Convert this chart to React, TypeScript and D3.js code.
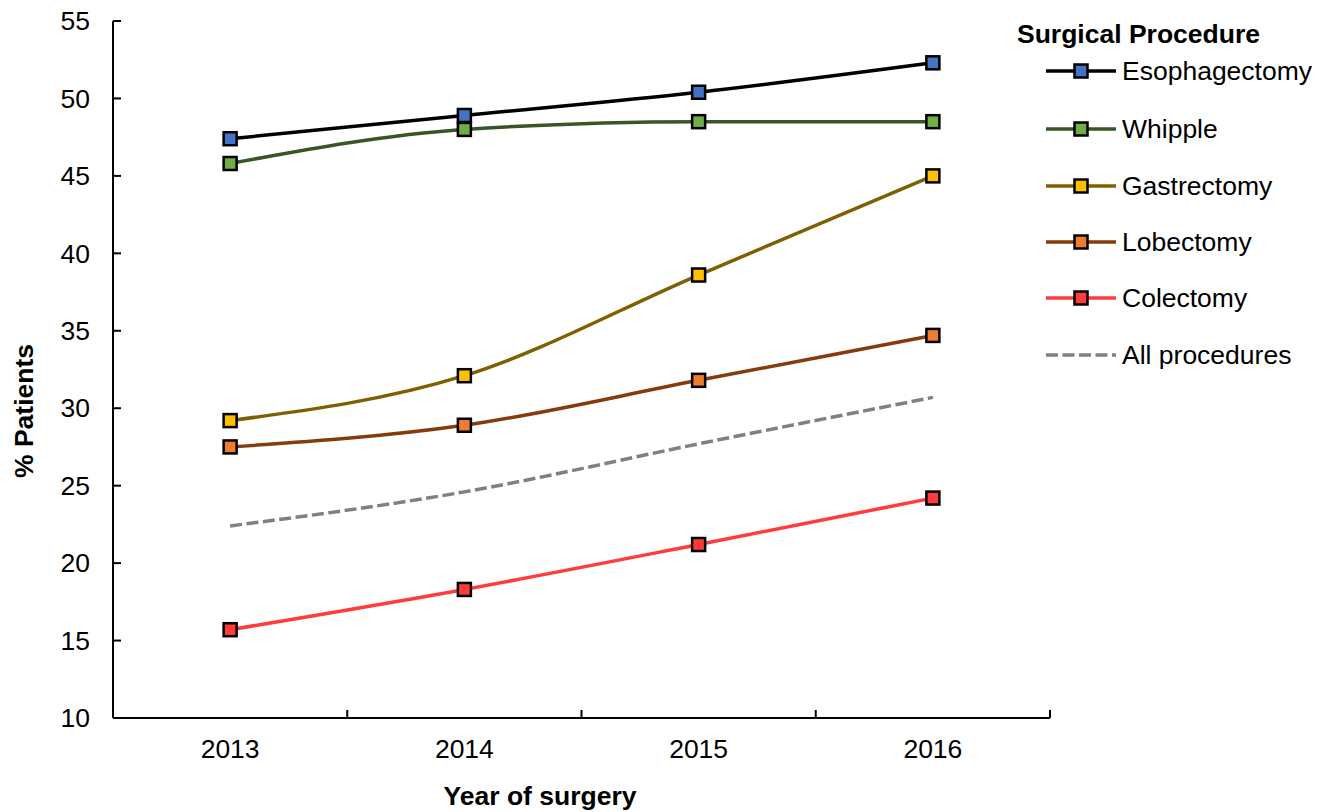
import React from "react";
import * as d3 from "d3";

const years = ["2013", "2014", "2015", "2016"];
const yTicks = [10, 15, 20, 25, 30, 35, 40, 45, 50, 55];

const esophagectomy = [47.4, 48.9, 50.4, 52.3];
const whipple = [45.8, 48.0, 48.5, 48.5];
const gastrectomy = [29.2, 32.1, 38.6, 45.0];
const lobectomy = [27.5, 28.9, 31.8, 34.7];
const colectomy = [15.7, 18.3, 21.2, 24.2];
const allProcedures = [22.4, 24.6, 27.7, 30.7];

const seriesList = [
  { name: "Esophagectomy", values: esophagectomy, line: "#000000", fill: "#4472C4", dashed: false },
  { name: "Whipple", values: whipple, line: "#375623", fill: "#70AD47", dashed: false },
  { name: "Gastrectomy", values: gastrectomy, line: "#7F6000", fill: "#FFC000", dashed: false },
  { name: "Lobectomy", values: lobectomy, line: "#843C0C", fill: "#ED7D31", dashed: false },
  { name: "Colectomy", values: colectomy, line: "#FF3B3B", fill: "#FF3B3B", dashed: false },
  { name: "All procedures", values: allProcedures, line: "#808080", fill: "none", dashed: true },
];

const W = 1318;
const H = 812;
const left = 113;
const right = 1050;
const top = 21;
const bottom = 718;
const font = "'Liberation Sans', Arial, sans-serif";
const fs = 26.5;
const lw = 3.5;
const dash = "12 4.5";

export default function App() {
  const x = d3.scaleBand<string>().domain(years).range([left, right]).padding(0);
  const y = d3.scaleLinear().domain([10, 55]).range([bottom, top]);
  const cx = (yr: string) => (x(yr) as number) + x.bandwidth() / 2;

  const line = d3
    .line<number>()
    .x((_, i) => cx(years[i]))
    .y((v) => y(v))
    .curve(d3.curveMonotoneX);

  const legendX = 1046;
  const legendYs = [71, 129, 186, 242, 298, 355];
  const ms = 13;

  return (
    <svg
      width={W}
      height={H}
      style={{ position: "absolute", left: 0, top: 0, background: "#fff" }}
      fontFamily={font}
    >
      {/* axes */}
      <line x1={left} y1={top} x2={left} y2={bottom} stroke="#000" strokeWidth={2} />
      <line x1={left} y1={bottom} x2={right} y2={bottom} stroke="#000" strokeWidth={2} />
      {yTicks.map((t) => (
        <g key={t}>
          <line x1={left} x2={left + 8} y1={y(t)} y2={y(t)} stroke="#000" strokeWidth={2} />
          <text x={90} y={y(t)} dy="0.35em" textAnchor="end" fontSize={fs}>
            {t}
          </text>
        </g>
      ))}
      {years.map((yr, i) => (
        <g key={yr}>
          {i > 0 && (
            <line
              x1={x(yr) as number}
              x2={x(yr) as number}
              y1={bottom}
              y2={bottom - 8}
              stroke="#000"
              strokeWidth={2}
            />
          )}
          <text x={cx(yr)} y={758} textAnchor="middle" fontSize={fs}>
            {yr}
          </text>
        </g>
      ))}
      <line x1={right} x2={right} y1={bottom} y2={bottom - 8} stroke="#000" strokeWidth={2} />

      <text x={540} y={805} textAnchor="middle" fontSize={fs} fontWeight="bold">
        Year of surgery
      </text>
      <text
        transform={`translate(33,411) rotate(-90)`}
        textAnchor="middle"
        fontSize={fs}
        fontWeight="bold"
      >
        % Patients
      </text>

      {/* series */}
      {seriesList.map((s) => (
        <g key={s.name}>
          <path
            d={line(s.values) as string}
            fill="none"
            stroke={s.line}
            strokeWidth={lw}
            strokeDasharray={s.dashed ? dash : undefined}
          />
          {s.fill !== "none" &&
            s.values.map((v, i) => (
              <rect
                key={i}
                x={cx(years[i]) - ms / 2}
                y={y(v) - ms / 2}
                width={ms}
                height={ms}
                fill={s.fill}
                stroke="#000"
                strokeWidth={2.5}
              />
            ))}
        </g>
      ))}

      {/* legend */}
      <text x={1017} y={43} fontSize={fs} fontWeight="bold">
        Surgical Procedure
      </text>
      {seriesList.map((s, i) => {
        const ly = legendYs[i];
        return (
          <g key={s.name}>
            <line
              x1={legendX}
              x2={legendX + 70}
              y1={ly}
              y2={ly}
              stroke={s.line}
              strokeWidth={lw}
              strokeDasharray={s.dashed ? dash : undefined}
            />
            {s.fill !== "none" && (
              <rect
                x={legendX + 35 - ms / 2}
                y={ly - ms / 2}
                width={ms}
                height={ms}
                fill={s.fill}
                stroke="#000"
                strokeWidth={2.5}
              />
            )}
            <text x={1122} y={ly} dy="0.35em" fontSize={fs}>
              {s.name}
            </text>
          </g>
        );
      })}
    </svg>
  );
}
